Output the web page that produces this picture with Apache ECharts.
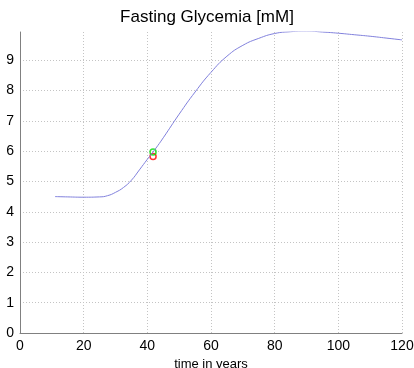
<!DOCTYPE html>
<html>
<head>
<meta charset="utf-8">
<script src="https://cdn.jsdelivr.net/npm/echarts@6/dist/echarts.min.js"></script>
<style>html,body{margin:0;padding:0;background:#fff}#c{width:414px;height:368px}</style>
</head>
<body>
<div id="c"></div>
<script>
const ageYears = [11, 15, 20, 25, 27.5, 30, 32.5, 35, 37.5, 40, 42.5, 45, 50, 55, 60, 65, 70, 75, 80, 85, 90, 95, 100, 105, 110, 115, 120];
const glycemia = [4.50, 4.49, 4.48, 4.49, 4.53, 4.64, 4.80, 5.04, 5.38, 5.73, 6.07, 6.44, 7.22, 7.95, 8.60, 9.13, 9.49, 9.72, 9.88, 9.94, 9.96, 9.93, 9.89, 9.84, 9.79, 9.73, 9.67];
const greenPoint = [41.8, 5.97];
const redPoint = [41.8, 5.82];
const xTicks = [0, 20, 40, 60, 80, 100, 120];
const yTicks = [0, 1, 2, 3, 4, 5, 6, 7, 8, 9];

const chart = echarts.init(document.getElementById('c'), null, {renderer: 'canvas'});
const font = 'Liberation Sans, Arial, sans-serif';
const gridColors = yTicks.map(() => '#c4c4c4').concat(['rgba(0,0,0,0)']);
chart.setOption({
  animation: false,
  backgroundColor: '#fff',
  title: {
    text: 'Fasting Glycemia [mM]',
    left: 'center', top: 4,
    textStyle: {fontFamily: font, fontSize: 17, fontWeight: 'normal', color: '#000'}
  },
  grid: {left: 20, right: 12, top: 32, bottom: 35, containLabel: false, outerBoundsMode: 'none'},
  xAxis: {
    type: 'value', min: 0, max: 120, interval: 20,
    name: 'time in years', nameLocation: 'middle', nameGap: 24,
    nameTextStyle: {fontFamily: font, fontSize: 13, color: '#000'},
    axisLine: {lineStyle: {color: '#808080', width: 1}},
    axisTick: {show: false},
    axisLabel: {fontFamily: font, fontSize: 14, color: '#000', margin: 6,
      formatter: v => xTicks.includes(v) ? String(v) : ''},
    splitLine: {show: true, lineStyle: {color: '#c4c4c4', type: [1, 2], width: 1}}
  },
  yAxis: {
    type: 'value', min: 0, max: 9.93, interval: 1,
    axisLine: {show: true, lineStyle: {color: '#808080', width: 1}},
    axisTick: {show: false},
    showMaxLabel: false,
    axisLabel: {fontFamily: font, fontSize: 14, color: '#000', margin: 6,
      formatter: v => yTicks.includes(v) ? String(v) : ''},
    splitLine: {show: true, lineStyle: {color: gridColors, type: [1, 2], width: 1}}
  },
  series: [
    {
      type: 'line', data: ageYears.map((x, i) => [x, glycemia[i]]),
      smooth: 0.5, showSymbol: false, clip: true,
      lineStyle: {color: '#8080dc', width: 1}
    },
    {
      type: 'scatter', data: [redPoint], symbol: 'circle', symbolSize: 6,
      itemStyle: {color: 'rgba(0,0,0,0)', borderColor: '#ff0000', borderWidth: 1.5}
    },
    {
      type: 'scatter', data: [greenPoint], symbol: 'circle', symbolSize: 6,
      itemStyle: {color: 'rgba(0,0,0,0)', borderColor: '#00e000', borderWidth: 1.5}
    }
  ]
});
</script>
</body>
</html>
